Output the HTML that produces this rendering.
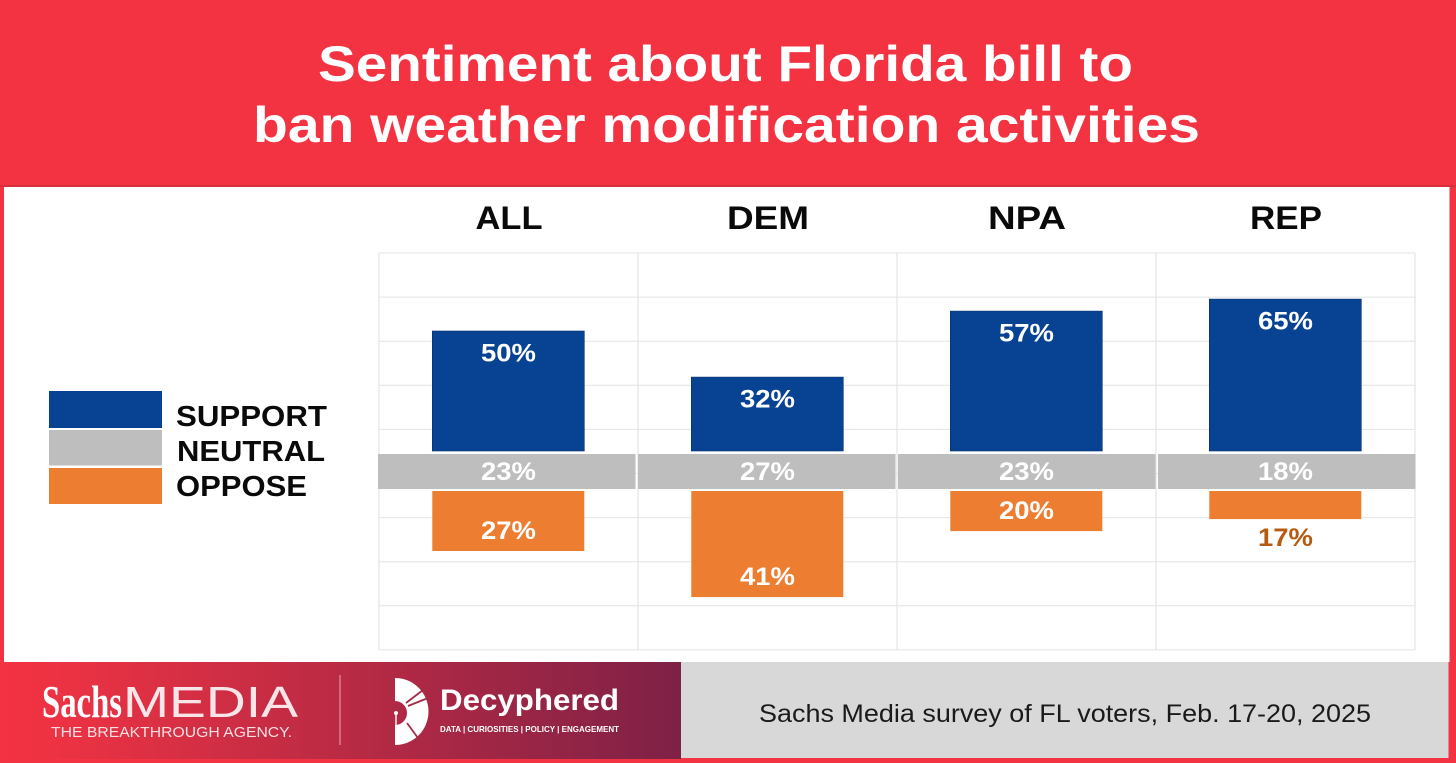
<!DOCTYPE html>
<html lang="en">
<head>
<meta charset="utf-8">
<title>Sentiment about Florida bill to ban weather modification activities</title>
<style>
html,body{margin:0;padding:0;width:1456px;height:763px;overflow:hidden;background:#f33242}
svg{display:block}
text{font-family:"Liberation Sans",sans-serif}
</style>
</head>
<body>
<svg id="chart" width="1456" height="763" viewBox="0 0 1456 763" xmlns="http://www.w3.org/2000/svg">
  <defs>
    <linearGradient id="footGrad" x1="0" x2="1" y1="0" y2="0">
      <stop offset="0" stop-color="#f33242"/>
      <stop offset="0.1" stop-color="#ea3243"/>
      <stop offset="1" stop-color="#7e2146"/>
    </linearGradient>
  </defs>
  <rect x="0" y="0" width="1456" height="763" fill="#f33242"/>
  <rect x="0" y="185" width="1456" height="2" fill="#d92f3d"/>
  <rect x="4" y="187" width="1445.500" height="475" fill="#ffffff"/>
  <text x="725.5" y="81" text-anchor="middle" font-size="50" font-weight="700" fill="#ffffff" textLength="815" lengthAdjust="spacingAndGlyphs">Sentiment about Florida bill to</text>
  <text x="726.5" y="142" text-anchor="middle" font-size="50" font-weight="700" fill="#ffffff" textLength="947" lengthAdjust="spacingAndGlyphs">ban weather modification activities</text>

  <g id="grid"></g>
  <g id="heads"></g>
  <g id="bars"></g>

  <g>
    <rect x="49" y="391" width="113" height="37" fill="#084292"/>
    <rect x="49" y="430" width="113" height="35.500" fill="#bebebe"/>
    <rect x="49" y="468" width="113" height="36" fill="#ed7d31"/>
    <text x="176" y="426" font-size="28.500" font-weight="700" fill="#0a0a0a" textLength="151" lengthAdjust="spacingAndGlyphs">SUPPORT</text>
    <text x="177" y="461" font-size="28.500" font-weight="700" fill="#0a0a0a" textLength="148" lengthAdjust="spacingAndGlyphs">NEUTRAL</text>
    <text x="176" y="496" font-size="28.500" font-weight="700" fill="#0a0a0a" textLength="131" lengthAdjust="spacingAndGlyphs">OPPOSE</text>
  </g>

  <g>
    <rect x="4" y="662" width="677" height="97" fill="url(#footGrad)"/>
    <rect x="681" y="662" width="767.500" height="96" fill="#d8d8d8"/>
    <text x="42" y="717" font-size="45" font-weight="700" fill="#ffffff" style="font-family:'Liberation Serif',serif" textLength="80" lengthAdjust="spacingAndGlyphs">Sachs</text>
    <text x="123" y="717" font-size="44" fill="#ffffff" opacity="0.88" textLength="175" lengthAdjust="spacingAndGlyphs">MEDIA</text>
    <text x="51" y="737" font-size="14.500" fill="#f6dfe2" textLength="241" lengthAdjust="spacingAndGlyphs">THE BREAKTHROUGH AGENCY.</text>
    <rect x="339.500" y="675" width="1" height="70" fill="#e9a5ad"/>
    <g>
      <path d="M395 678 A33.500 33.500 0 0 1 395 745 L395 725 A12 12 0 0 0 395 701 Z" fill="#ffffff"/>
      <line x1="406" y1="703" x2="423" y2="690" stroke="#a62a45" stroke-width="1.800"/>
      <line x1="408" y1="706" x2="428" y2="698" stroke="#a62a45" stroke-width="1.800"/>
      <line x1="407" y1="723" x2="418" y2="738" stroke="#a62a45" stroke-width="1.800"/>
      <rect x="395.300" y="713" width="1.400" height="20" fill="#ffffff"/>
      <circle cx="396" cy="713" r="2" fill="#ffffff"/>
    </g>
    <text x="440" y="710" font-size="30" font-weight="700" fill="#ffffff" textLength="179" lengthAdjust="spacingAndGlyphs">Decyphered</text>
    <text x="440" y="732" font-size="8.500" font-weight="700" fill="#ffffff" textLength="179" lengthAdjust="spacingAndGlyphs">DATA | CURIOSITIES | POLICY | ENGAGEMENT</text>
    <text x="759" y="722" font-size="25" fill="#1a1a1a" textLength="612" lengthAdjust="spacingAndGlyphs">Sachs Media survey of FL voters, Feb. 17-20, 2025</text>
  </g>
</svg>
<script>
// Chart data
const categories = ['ALL', 'DEM', 'NPA', 'REP'];
// Printed percentages
const supportLabels = [50, 32, 57, 65];
const neutralLabels = [23, 27, 23, 18];
const opposeLabels = [27, 41, 20, 17];
// Bar lengths as drawn in the picture, in percentage points on the chart scale
const supportValues = [50, 30.8, 58.3, 63.3];
const opposeValues = [25, 44.2, 16.7, 11.7];
const gridLevels = [0, 1, 2, 3, 4, 5, 6, 7, 8, 9];

const svg = 'http://www.w3.org/2000/svg';
const gridG = document.getElementById('grid');
const headG = document.getElementById('heads');
const barG = document.getElementById('bars');

// Axis functions
const colStep = 259, colLeft = 379, barW = 152;
const unit = 2.4, supportBase = 451, opposeBase = 491;
const xLeft = i => colLeft + i * colStep;
const xCenter = i => xLeft(i) + colStep / 2;
const ySupport = v => supportBase - v * unit;
const yOppose = v => opposeBase + v * unit;
const yGrid = l => 253 + l * 44.1;

function make(tag, attrs, parent, text) {
  const el = document.createElementNS(svg, tag);
  for (const k in attrs) el.setAttribute(k, attrs[k]);
  if (text !== undefined) el.textContent = text;
  parent.appendChild(el);
  return el;
}

gridLevels.forEach(l => {
  const el = make('line', { x1: colLeft, x2: xLeft(categories.length), y1: yGrid(l), y2: yGrid(l), stroke: '#e4e4e4', 'stroke-width': 1 }, gridG);
  
  
});
for (let i = 0; i <= categories.length; i++) {
  const el = make('line', { x1: xLeft(i), x2: xLeft(i), y1: yGrid(0), y2: yGrid(9), stroke: '#e4e4e4', 'stroke-width': 1.2 }, gridG);
  
  
}

const headWidths = [67, 82, 78, 72];
categories.forEach((c, i) => {
  const cx = xCenter(i) - 0.5;
  const key = c.toLowerCase();
  const labelStyle = { 'text-anchor': 'middle', 'font-size': 25, 'font-weight': 700, textLength: 55, lengthAdjust: 'spacingAndGlyphs' };

  const head = make('text', { x: cx + 1, y: 229, 'text-anchor': 'middle', 'font-size': 32, 'font-weight': 700, fill: '#0a0a0a', textLength: headWidths[i], lengthAdjust: 'spacingAndGlyphs' }, headG, c);
  
  

  // Support bar
  const sy = ySupport(supportValues[i]);
  const sBar = make('rect', { x: cx - barW / 2 + 0.3, y: sy, width: barW, height: supportBase - sy, fill: '#084292', stroke: '#06306e', 'stroke-width': 0.6 }, barG);
  
  
  const sLab = make('text', Object.assign({ x: cx + 0.5, y: sy + 30.5, fill: '#ffffff' }, labelStyle), barG, supportLabels[i] + '%');
  
  

  // Neutral band
  const nBar = make('rect', { x: 378 + i * 260, y: 454, width: 257.5, height: 35, fill: '#bebebe' }, barG);
  
  
  const nLab = make('text', Object.assign({ x: cx + 0.5, y: 480, fill: '#ffffff' }, labelStyle), barG, neutralLabels[i] + '%');
  
  

  // Oppose bar
  const oy = yOppose(opposeValues[i]);
  const oBar = make('rect', { x: cx - barW / 2 + 0.3, y: opposeBase, width: barW, height: oy - opposeBase, fill: '#ed7d31' }, barG);
  
  
  const outside = oy - opposeBase < 30;
  const oLab = make('text', Object.assign({ x: cx + 0.5, y: outside ? oy + 27 : oy - 12, fill: outside ? '#b65c12' : '#ffffff' }, labelStyle), barG, opposeLabels[i] + '%');
  
  
});
</script>
</body>
</html>
